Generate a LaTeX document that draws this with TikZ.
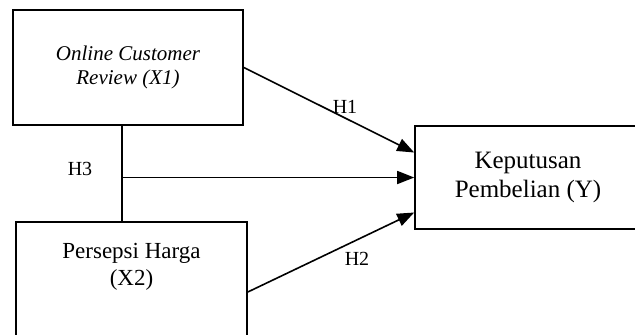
\documentclass[tikz,border=0pt]{standalone}
\usepackage{fontspec}
\setmainfont{Liberation Serif}
\usetikzlibrary{arrows.meta}

\begin{document}
\begin{tikzpicture}[x=0.5pt, y=-0.5pt,
    box/.style = {draw, rectangle, line width=0.8pt, inner sep=0pt, align=center},
    hyp/.style = {inner sep=0pt, font=\fontsize{10}{12}\selectfont},
    link/.style = {line width=0.8pt},
    arr/.style = {line width=0.8pt, -{Triangle[length=8.5pt, width=6.5pt]}}]
    \useasboundingbox (0,0) rectangle (635,334);
    \clip (0,0) rectangle (635,334);

    \node[box, minimum width=115pt, minimum height=57.5pt,
        font=\itshape\fontsize{10.5}{12}\selectfont] (X1) at (128,67.5) {Online Customer\\Review (X1)};
    \node[box, minimum width=113pt, minimum height=51.5pt,
        font=\fontsize{12.5}{14.5}\selectfont] (Y) at (528,177.5) {Keputusan\\Pembelian (Y)};
    \node[box, minimum width=115.5pt, minimum height=70pt] (X2) at (131.5,292) {};
    \node[align=center, inner sep=0pt, font=\fontsize{11.5}{13.5}\selectfont] (X2txt) at (131.5,266.5) {Persepsi Harga\\(X2)};
    \coordinate (m) at (122,177.5);

    \node[hyp] (H1) at (345,107) {H1};
    \node[hyp] (H2) at (357,259) {H2};
    \node[hyp] (H3) at (80,169) {H3};

    \draw[link] (X1.south -| m) -- (X2.north -| m);
    \draw[arr] (m) -- (Y.west);
    \draw[arr] (X1.east) -- ([yshift=12.5pt]Y.west);
    \draw[arr] (X2.east) -- ([yshift=-17.5pt]Y.west);
\end{tikzpicture}
\end{document}
